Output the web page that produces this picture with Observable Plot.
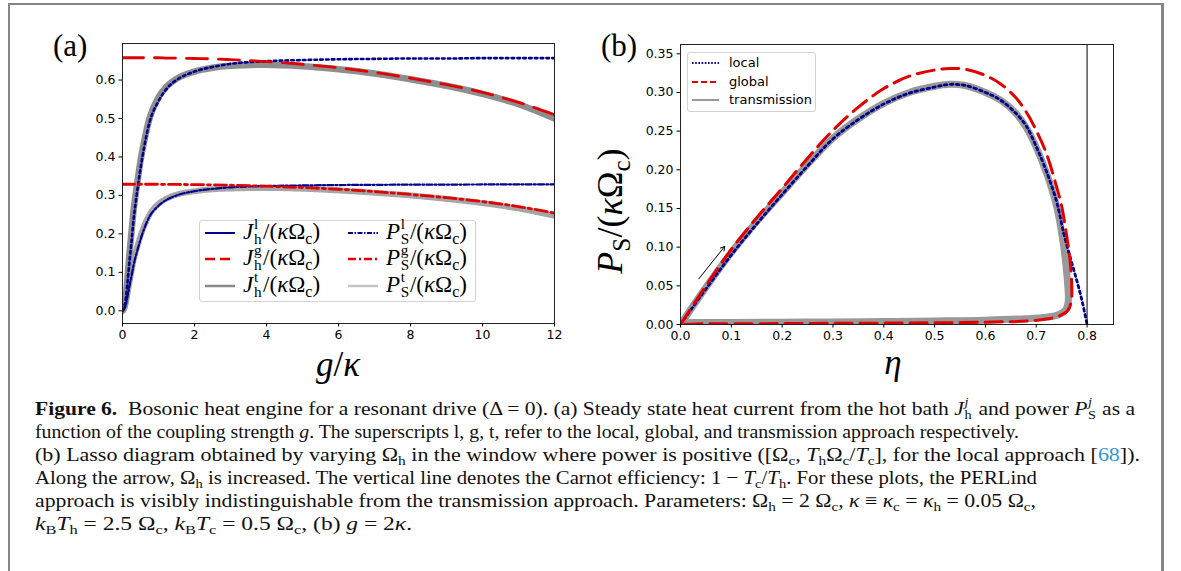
<!DOCTYPE html>
<html><head><meta charset="utf-8">
<script src="https://cdn.jsdelivr.net/npm/d3@7"></script>
<script src="https://cdn.jsdelivr.net/npm/@observablehq/plot@0.6"></script>
<style>
html,body{margin:0;padding:0;background:#fff;}
body{width:1181px;height:571px;overflow:hidden;position:relative;}
#border{position:absolute;left:8px;top:3px;width:1151px;height:700px;border-left:2px solid #858585;border-top:2px solid #858585;border-right:3px solid #858585;}
.abs{position:absolute;}
.serif{font-family:"Liberation Serif","DejaVu Serif",serif;}
.ss{display:inline-block;position:relative;width:0.4em;height:0;margin-left:0.03em;}
.ss>span{position:absolute;left:0;font-size:0.66em;line-height:1;white-space:nowrap;}
.ss>.u{top:-1.5em;}
.ss>.d{top:-0.5em;}
.sb{font-size:0.7em;position:relative;top:0.3em;}
.legend{background:rgba(255,255,255,0.85);border:1px solid #d3d3d3;border-radius:3px;box-sizing:border-box;}
.leglab{position:absolute;white-space:nowrap;line-height:1;}
.cap{position:absolute;left:35px;white-space:nowrap;font-family:"Liberation Serif","DejaVu Serif",serif;font-size:19px;line-height:20px;transform-origin:0 50%;color:#111;}
</style>
</head><body>
<div id="border"></div>
<div id="chartA" class="abs" style="left:40px;top:20px;"></div>
<div id="chartB" class="abs" style="left:590px;top:20px;"></div>
<script>
// ---------------- Panel (a) data: heat current J_h and power P_S vs g/kappa ----------------
const gVals  = [0, 0.05, 0.1, 0.15, 0.2, 0.25, 0.3, 0.4, 0.5, 0.6, 0.75, 1, 1.25, 1.5, 2, 2.5, 3, 4, 5, 6, 7, 8, 9, 10, 11, 12];
const J_local  = [0, 0.01, 0.038, 0.085, 0.135, 0.18, 0.23, 0.305, 0.37, 0.425, 0.49, 0.545, 0.58, 0.6, 0.622, 0.634, 0.642, 0.649, 0.652, 0.654, 0.655, 0.656, 0.656, 0.657, 0.657, 0.657];
const J_global = [0.658, 0.658, 0.658, 0.658, 0.658, 0.658, 0.658, 0.658, 0.658, 0.658, 0.658, 0.658, 0.657, 0.657, 0.656, 0.655, 0.653, 0.648, 0.641, 0.632, 0.62, 0.605, 0.588, 0.568, 0.542, 0.51];
const J_trans  = [0, 0.012, 0.045, 0.1, 0.155, 0.205, 0.255, 0.325, 0.39, 0.44, 0.5, 0.555, 0.585, 0.603, 0.622, 0.632, 0.637, 0.64, 0.636, 0.628, 0.617, 0.602, 0.585, 0.564, 0.537, 0.5];
const P_local  = [0, 0.005, 0.019, 0.043, 0.068, 0.09, 0.115, 0.153, 0.185, 0.213, 0.245, 0.273, 0.29, 0.3, 0.311, 0.317, 0.321, 0.3245, 0.326, 0.327, 0.3275, 0.328, 0.328, 0.3285, 0.3285, 0.3285];
const P_global = [0.329, 0.329, 0.329, 0.329, 0.329, 0.329, 0.329, 0.329, 0.329, 0.329, 0.329, 0.329, 0.3285, 0.3285, 0.328, 0.3275, 0.3265, 0.324, 0.3205, 0.316, 0.31, 0.3025, 0.294, 0.284, 0.271, 0.254];
const P_trans  = [0, 0.006, 0.023, 0.05, 0.078, 0.103, 0.128, 0.163, 0.195, 0.22, 0.25, 0.278, 0.293, 0.302, 0.311, 0.316, 0.318, 0.3195, 0.3175, 0.313, 0.307, 0.3, 0.291, 0.28, 0.266, 0.247];
const ticksAX = [0, 2, 4, 6, 8, 10, 12];
const ticksAY = [0, 0.1, 0.2, 0.3, 0.4, 0.5, 0.6];

// ---------------- Panel (b) data: lasso diagram P_S vs eta ----------------
const eta_trans = [0, 0.05, 0.1, 0.15, 0.2, 0.25, 0.3, 0.35, 0.4, 0.45, 0.5, 0.53, 0.56, 0.6, 0.63, 0.66, 0.68, 0.7, 0.72, 0.74, 0.75, 0.757, 0.762, 0.763, 0.758, 0.745, 0.72, 0.68, 0.6, 0.5, 0.4, 0.3, 0.2, 0.1, 0.03, 0.01, 0];
const P_trans_b = [0, 0.048, 0.093, 0.133, 0.17, 0.207, 0.241, 0.266, 0.286, 0.3, 0.308, 0.3105, 0.309, 0.3, 0.29, 0.273, 0.255, 0.229, 0.196, 0.153, 0.118, 0.085, 0.05, 0.03, 0.019, 0.013, 0.0095, 0.0075, 0.0055, 0.0045, 0.0038, 0.0033, 0.003, 0.0027, 0.0025, 0.002, 0];
const eta_global = [0, 0.05, 0.1, 0.15, 0.2, 0.25, 0.3, 0.35, 0.4, 0.45, 0.5, 0.53, 0.56, 0.6, 0.63, 0.66, 0.68, 0.7, 0.72, 0.74, 0.75, 0.76, 0.767, 0.77, 0.769, 0.762, 0.745, 0.72, 0.68, 0.6, 0.5, 0.4, 0.3, 0.2, 0.1, 0.03, 0];
const P_global_b = [0, 0.05, 0.097, 0.138, 0.176, 0.215, 0.251, 0.281, 0.305, 0.321, 0.329, 0.331, 0.33, 0.322, 0.311, 0.293, 0.275, 0.251, 0.221, 0.178, 0.153, 0.114, 0.08, 0.045, 0.03, 0.018, 0.011, 0.007, 0.0045, 0.003, 0.0022, 0.0018, 0.0015, 0.0012, 0.001, 0.0008, 0];
const eta_local = [0, 0.05, 0.1, 0.15, 0.2, 0.25, 0.3, 0.35, 0.4, 0.45, 0.5, 0.53, 0.56, 0.6, 0.63, 0.66, 0.68, 0.7, 0.72, 0.74, 0.754, 0.768, 0.781, 0.791, 0.8];
const P_local_b = [0, 0.046, 0.09, 0.13, 0.168, 0.205, 0.24, 0.265, 0.285, 0.299, 0.307, 0.3105, 0.309, 0.3, 0.29, 0.273, 0.257, 0.23, 0.198, 0.159, 0.118, 0.084, 0.054, 0.028, 0];
const carnot = [0.8];
const arrowB = [{x1: 0.036, y1: 0.059, x2: 0.087, y2: 0.101}];
const ticksBX = [0, 0.1, 0.2, 0.3, 0.4, 0.5, 0.6, 0.7, 0.8];
const ticksBY = [0, 0.05, 0.1, 0.15, 0.2, 0.25, 0.3, 0.35];

const NAVY = "#00008b", RED = "#e00000";
const series = (xs, ys) => xs.map((x, i) => ({x, y: ys[i]}));
const baseStyle = {fontFamily: "'DejaVu Sans', sans-serif", fontSize: "12.5px", color: "#000", background: "transparent", overflow: "visible"};
const axOpts = {tickSize: 3.5, tickPadding: 3.5, label: null, fontSize: 12.5};

const plotA = Plot.plot({
  width: 540, height: 370,
  marginLeft: 82, marginRight: 26, marginTop: 23, marginBottom: 67,
  x: {domain: [0, 12]},
  y: {domain: [-0.033, 0.695]},
  style: baseStyle,
  marks: [
    Plot.line(series(gVals, P_trans), {x: "x", y: "y", stroke: "#a6a6a6", strokeWidth: 6, strokeDasharray: "1.6,1.9", curve: "monotone-x", clip: true}),
    Plot.line(series(gVals, J_trans), {x: "x", y: "y", stroke: "#8e8e8e", strokeWidth: 6.5, curve: "monotone-x", clip: true}),
    Plot.line(series(gVals, J_local), {x: "x", y: "y", stroke: NAVY, strokeWidth: 2.6, strokeDasharray: "2.6,3.2", curve: "monotone-x", clip: true}),
    Plot.line(series(gVals, P_local), {x: "x", y: "y", stroke: NAVY, strokeWidth: 2.2, strokeDasharray: "6,2.2,2,2.2", curve: "monotone-x", clip: true}),
    Plot.line(series(gVals, J_global), {x: "x", y: "y", stroke: RED, strokeWidth: 2.8, strokeDasharray: "21,11", curve: "monotone-x", clip: true}),
    Plot.line(series(gVals, P_global), {x: "x", y: "y", stroke: RED, strokeWidth: 2.8, strokeDasharray: "12,4,3,4", curve: "monotone-x", clip: true}),
    Plot.frame({stroke: "#222", strokeWidth: 1}),
    Plot.axisX({...axOpts, ticks: ticksAX, tickFormat: d => String(d)}),
    Plot.axisY({...axOpts, ticks: ticksAY, tickFormat: d3.format(".1f")})
  ]
});
document.getElementById("chartA").appendChild(plotA);

const plotB = Plot.plot({
  width: 550, height: 370,
  marginLeft: 90, marginRight: 27, marginTop: 24, marginBottom: 66,
  x: {domain: [0, 0.852]},
  y: {domain: [0, 0.362]},
  style: baseStyle,
  marks: [
    Plot.line(series(eta_trans, P_trans_b), {x: "x", y: "y", stroke: "#999", strokeWidth: 7, curve: "catmull-rom", clip: true}),
    Plot.line(series(eta_local, P_local_b), {x: "x", y: "y", stroke: NAVY, strokeWidth: 2.8, strokeDasharray: "2.6,3.4", curve: "catmull-rom", clip: true}),
    Plot.line(series(eta_global, P_global_b), {x: "x", y: "y", stroke: RED, strokeWidth: 3, strokeDasharray: "17,8", curve: "catmull-rom", clip: true}),
    Plot.ruleX(carnot, {stroke: "#000", strokeWidth: 1}),
    Plot.arrow(arrowB, {x1: "x1", y1: "y1", x2: "x2", y2: "y2", stroke: "#000", strokeWidth: 1, headLength: 7}),
    Plot.frame({stroke: "#222", strokeWidth: 1}),
    Plot.axisX({...axOpts, ticks: ticksBX, tickFormat: d3.format(".1f")}),
    Plot.axisY({...axOpts, ticks: ticksBY, tickFormat: d3.format(".2f")})
  ]
});
document.getElementById("chartB").appendChild(plotB);

// ---------------- text, labels, legends ----------------
const stk = (sup, sub, supItalic) => `<span class="ss"><span class="u">${supItalic ? "<i>" + sup + "</i>" : sup}</span><span class="d">${sub}</span></span>`;
const sb = s => `<span class="sb">${s}</span>`;
const kOc = `/(<i>κ</i>Ω${sb("c")})`;

function addDiv(html, css, cls) {
  const d = document.createElement("div");
  d.className = "abs " + (cls || "");
  d.style.cssText = css;
  d.innerHTML = html;
  document.body.appendChild(d);
  return d;
}

// panel labels & axis titles
addDiv("(a)", "left:53px;top:30px;font-size:31px;line-height:31px;", "serif");
addDiv("(b)", "left:601px;top:30px;font-size:31px;line-height:31px;", "serif");
addDiv("<i>g</i>/<i>κ</i>", "left:338px;top:347px;font-size:35px;line-height:35px;transform:translateX(-50%);white-space:nowrap;", "serif");
addDiv("<i>η</i>", "left:893px;top:345px;font-size:35px;line-height:35px;transform:translateX(-50%);", "serif");
addDiv(`<i>P</i>${sb("S")}/(<i>κ</i>Ω${sb("c")})`, "left:612px;top:211px;font-size:36px;line-height:36px;white-space:nowrap;transform:translate(-50%,-50%) rotate(-90deg);", "serif");

function handle(stroke, w, dash, len) {
  len = len || 30;
  return `<svg width="${len}" height="10" style="position:absolute;"><line x1="0" x2="${len}" y1="5" y2="5" stroke="${stroke}" stroke-width="${w}" ${dash ? `stroke-dasharray="${dash}"` : ""}/></svg>`;
}
// legend (a)
const legA = addDiv("", "left:199px;top:220px;width:277px;height:82px;", "legend");
const legAItems = [
  {col: 0, row: 0, h: handle(NAVY, 2, ""), t: `<i>J</i>${stk("l", "h")}${kOc}`},
  {col: 0, row: 1, h: handle(RED, 2.5, "10,5"), t: `<i>J</i>${stk("g", "h")}${kOc}`},
  {col: 0, row: 2, h: handle("#888", 2.5, ""), t: `<i>J</i>${stk("t", "h")}${kOc}`},
  {col: 1, row: 0, h: handle(NAVY, 2, "5,1.5,1.5,1.5"), t: `<i>P</i>${stk("l", "S")}${kOc}`},
  {col: 1, row: 1, h: handle(RED, 2.5, "8,3,2,3"), t: `<i>P</i>${stk("g", "S")}${kOc}`},
  {col: 1, row: 2, h: handle("#c4c4c4", 2.5, ""), t: `<i>P</i>${stk("t", "S")}${kOc}`}
];
const rowsA = [13, 39, 66];
legAItems.forEach(it => {
  const hx = it.col ? 148 : 5, tx = it.col ? 186 : 43;
  const hd = document.createElement("div");
  hd.style.cssText = `position:absolute;left:${hx}px;top:${rowsA[it.row] - 6}px;`;
  hd.innerHTML = it.h;
  legA.appendChild(hd);
  const lb = document.createElement("div");
  lb.className = "leglab serif";
  lb.style.cssText = `left:${tx}px;top:${rowsA[it.row] - 14}px;font-size:23px;`;
  lb.innerHTML = it.t;
  legA.appendChild(lb);
});
// legend (b)
const legB = addDiv("", "left:687px;top:52px;width:129px;height:60px;", "legend");
const legBItems = [
  {h: handle(NAVY, 2, "1.6,1.6", 27), t: "local"},
  {h: handle(RED, 2, "6,3", 27), t: "global"},
  {h: handle("#999", 2, "", 27), t: "transmission"}
];
[10.7, 29.7, 48.3].forEach((y, i) => {
  const hd = document.createElement("div");
  hd.style.cssText = `position:absolute;left:4px;top:${y - 6}px;`;
  hd.innerHTML = legBItems[i].h;
  legB.appendChild(hd);
  const lb = document.createElement("div");
  lb.className = "leglab";
  lb.style.cssText = `left:41px;top:${y - 8}px;font-family:'DejaVu Sans',sans-serif;font-size:13px;`;
  lb.textContent = legBItems[i].t;
  legB.appendChild(lb);
});

// ---------------- caption ----------------
const captionLines = [
  `<b>Figure 6.</b>&nbsp; Bosonic heat engine for a resonant drive (Δ = 0). (a) Steady state heat current from the hot bath <i>J</i>${stk("j", "h", true)} and power <i>P</i>${stk("j", "S", true)} as a`,
  `function of the coupling strength <i>g</i>. The superscripts l, g, t, refer to the local, global, and transmission approach respectively.`,
  `(b) Lasso diagram obtained by varying Ω${sb("h")} in the window where power is positive ([Ω${sb("c")}, <i>T</i>${sb("h")}Ω${sb("c")}/<i>T</i>${sb("c")}], for the local approach [<span style="color:#2a9ad6">68</span>]).`,
  `Along the arrow, Ω${sb("h")} is increased. The vertical line denotes the Carnot efficiency: 1 − <i>T</i>${sb("c")}/<i>T</i>${sb("h")}. For these plots, the PERLind`,
  `approach is visibly indistinguishable from the transmission approach. Parameters: Ω${sb("h")} = 2 Ω${sb("c")}, <i>κ</i> ≡ <i>κ</i>${sb("c")} = <i>κ</i>${sb("h")} = 0.05 Ω${sb("c")},`,
  `<i>k</i>${sb("B")}<i>T</i>${sb("h")} = 2.5 Ω${sb("c")}, <i>k</i>${sb("B")}<i>T</i>${sb("c")} = 0.5 Ω${sb("c")}, (b) <i>g</i> = 2<i>κ</i>.`
];
const capWidths = [1100, 984, 1105, 1002, 1001, 377];
const capEls = captionLines.map((h, i) => {
  const d = document.createElement("div");
  d.className = "cap";
  d.style.top = (399 + i * 23) + "px";
  d.innerHTML = h;
  document.body.appendChild(d);
  return d;
});
function fitCaption() {
  capEls.forEach((d, i) => {
    d.style.transform = "none";
    const w = d.getBoundingClientRect().width;
    d.style.transform = `scaleX(${capWidths[i] / w})`;
  });
}
fitCaption();
if (document.fonts && document.fonts.ready) document.fonts.ready.then(fitCaption);
</script>
</body></html>
